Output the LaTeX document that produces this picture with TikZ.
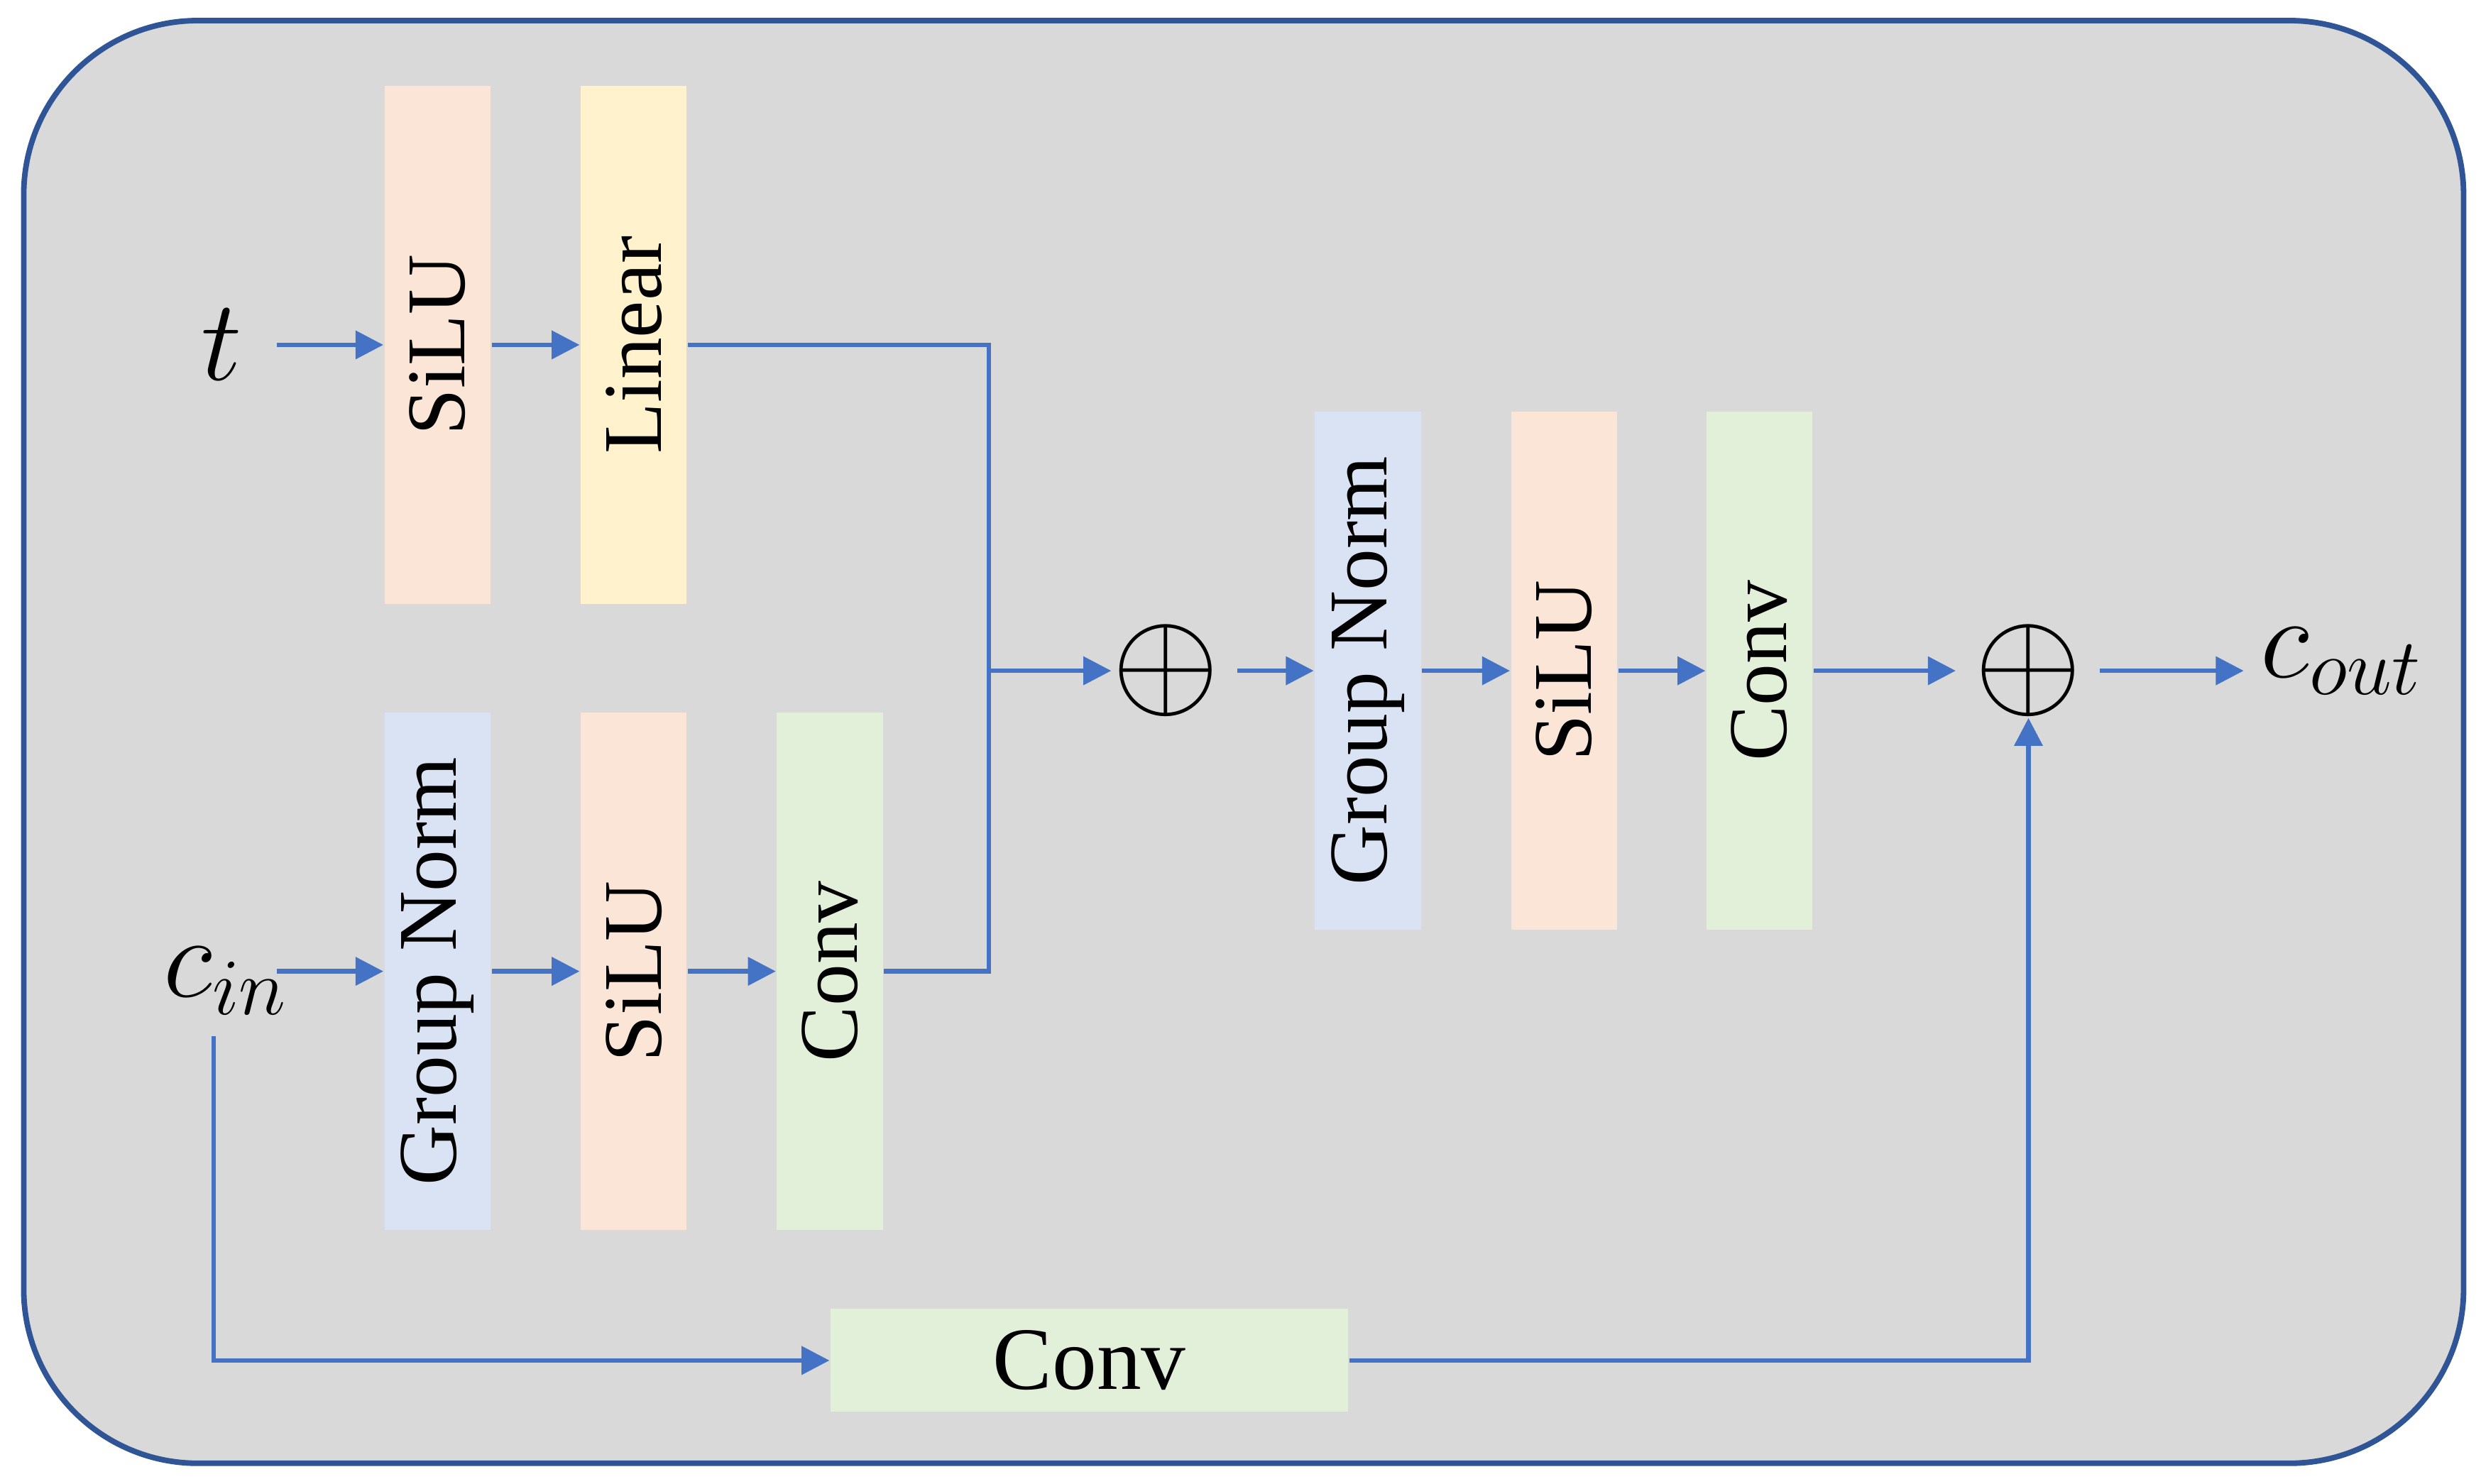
\documentclass[tikz,border=0pt]{standalone}
\usepackage{fontspec}
\setmainfont{Liberation Serif}
\usetikzlibrary{positioning,arrows.meta}
\definecolor{bgray}{HTML}{D9D9D9}
\definecolor{frameblue}{HTML}{2F5597}
\definecolor{lineblue}{HTML}{4472C4}
\definecolor{peach}{HTML}{FBE5D6}
\definecolor{lightyellow}{HTML}{FFF2CC}
\definecolor{lightblue}{HTML}{DAE3F3}
\definecolor{lightgreen}{HTML}{E2F0D9}
\begin{document}
\begin{tikzpicture}[
  x=0.01cm, y=-0.01cm,
  block/.style={minimum width=0.67cm, minimum height=3.27cm, inner sep=0pt,
    font=\fontsize{15}{15}\selectfont},
  arrow/.style={-{Triangle[length=5pt,width=5pt]}, lineblue, thick},
  line/.style={lineblue, thick},
  plus/.style={inner sep=0pt, font=\fontsize{34}{34}\selectfont},
  lbl/.style={font=\fontsize{20}{20}\selectfont}
]
\useasboundingbox (0,0) rectangle (1568,938);
\draw[frameblue, fill=bgray, line width=1pt, rounded corners=1.1cm] (15,13) rectangle (1557,925);

% time branch
\node[lbl] (t) at (140,218) {$t$};
\node[block, fill=peach] (silu1) at (276.5,218) {\rotatebox{90}{SiLU}};
\node[block, fill=lightyellow] (lin) at (400.5,218) {\rotatebox{90}{Linear}};

% input branch
\node[lbl] (cin) at (143,620) {$c_{in}$};
\node[block, fill=lightblue] (gn1) at (276.5,614) {\rotatebox{90}{Group Norm}};
\node[block, fill=peach] (silu2) at (400.5,614) {\rotatebox{90}{SiLU}};
\node[block, fill=lightgreen] (conv1) at (524.5,614) {\rotatebox{90}{Conv}};

% main path
\node[plus] (add1) at (737,424) {$\oplus$};
\node[block, fill=lightblue] (gn2) at (864.5,424) {\rotatebox{90}{Group Norm}};
\node[block, fill=peach] (silu3) at (988.5,424) {\rotatebox{90}{SiLU}};
\node[block, fill=lightgreen] (conv2) at (1112,424) {\rotatebox{90}{Conv}};
\node[plus] (add2) at (1282,424) {$\oplus$};
\node[lbl] (cout) at (1480,418) {$c_{out}$};

% skip
\node[fill=lightgreen, minimum width=3.27cm, minimum height=0.65cm, inner sep=0pt,
  font=\fontsize{16}{16}\selectfont] (conv3) at (688.5,860) {Conv};
\coordinate (merge) at (625,424);

\draw[arrow] (175,218) -- (silu1.west);
\draw[arrow] (silu1) -- (lin);
\draw[line] (lin.east) -| (merge);
\draw[arrow] (175,614) -- (gn1.west);
\draw[arrow] (gn1) -- (silu2);
\draw[arrow] (silu2) -- (conv1);
\draw[line] (conv1.east) -| (merge);
\draw[arrow] (merge) -- (add1.west);
\draw[arrow] (782,424) -- (gn2.west);
\draw[arrow] (gn2) -- (silu3);
\draw[arrow] (silu3) -- (conv2);
\draw[arrow] (conv2.east) -- (1236,424);
\draw[arrow] (1327,424) -- (1418,424);
\draw[arrow] (135,655) |- (conv3.west);
\draw[arrow] (conv3.east) -| (add2.south);
\end{tikzpicture}
\end{document}
